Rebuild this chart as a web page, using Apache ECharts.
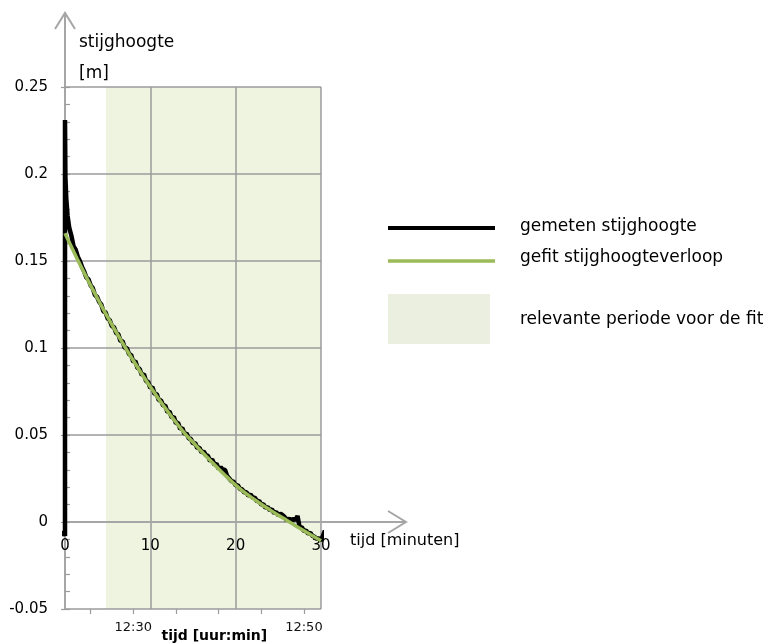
<!DOCTYPE html>
<html>
<head>
<meta charset="utf-8">
<script src="https://cdn.jsdelivr.net/npm/echarts@6/dist/echarts.min.js"></script>
<style>
  html, body { margin: 0; padding: 0; background: #ffffff; }
  #chart { width: 770px; height: 644px; }
</style>
</head>
<body>
<div id="chart"></div>
<script>
// Measured head (m) against time since start of the test (minutes)
const measuredT = [
  -1.35, -1.2, -1.05, -0.9, -0.7, -0.5, -0.3, -0.1, 0, 0,
  0.05, 0.15, 0.3, 0.5, 0.75, 1.0, 1.25, 1.5, 1.75, 2.0, 2.25, 2.5, 2.75, 3.0,
  3.25, 3.5, 3.75, 4.0, 4.25, 4.5, 4.75, 5.0, 5.25, 5.5, 5.75, 6.0, 6.25, 6.5,
  6.75, 7.0, 7.25, 7.5, 7.75, 8.0, 8.25, 8.5, 8.75, 9.0, 9.25, 9.5, 9.75, 10.0,
  10.25, 10.5, 10.75, 11.0, 11.25, 11.5, 11.75, 12.0, 12.25, 12.5, 12.75, 13.0,
  13.25, 13.5, 13.75, 14.0, 14.25, 14.5, 14.75, 15.0, 15.25, 15.5, 15.75, 16.0,
  16.25, 16.5, 16.75, 17.0, 17.25, 17.5, 17.75, 18.0, 18.25, 18.5, 18.75, 19.0,
  19.25, 19.5, 19.75, 20.0, 20.25, 20.5, 20.75, 21.0, 21.25, 21.5, 21.75, 22.0,
  22.25, 22.5, 22.75, 23.0, 23.25, 23.5, 23.75, 24.0, 24.25, 24.5, 24.75, 25.0,
  25.25, 25.5, 25.75, 26.0, 26.25, 26.5, 26.75, 27.0, 27.25, 27.5, 27.75, 28.0,
  28.25, 28.5, 28.75, 29.0, 29.25, 29.5, 29.75, 30.0,
  30.2, 30.45, 30.7, 30.95, 31.2, 31.45, 31.7
];
const measuredH = [
  -0.012, -0.006, -0.010, -0.005, -0.009, -0.007, -0.008, -0.006, -0.008, 0.231,
  0.198, 0.186, 0.176, 0.169, 0.1645, 0.1585, 0.1565, 0.1525, 0.1500, 0.1465, 0.1440, 0.1405, 0.1395, 0.1360,
  0.1345, 0.1305, 0.1295, 0.1265, 0.1250, 0.1210, 0.1205, 0.1170, 0.1160, 0.1125, 0.1120, 0.1085, 0.1080, 0.1040,
  0.1040, 0.1000, 0.1000, 0.0965, 0.0960, 0.0920, 0.0925, 0.0885, 0.0880, 0.0845, 0.0850, 0.0810, 0.0805, 0.0770,
  0.0775, 0.0735, 0.0735, 0.0700, 0.0700, 0.0668, 0.0670, 0.0632, 0.0635, 0.0600, 0.0605, 0.0568,
  0.0570, 0.0535, 0.0540, 0.0505, 0.0510, 0.0480, 0.0478, 0.0450, 0.0455, 0.0425, 0.0428, 0.0400,
  0.0405, 0.0385, 0.0380, 0.0350, 0.0360, 0.0330, 0.0335, 0.0305, 0.0315, 0.0300, 0.0300, 0.0265,
  0.0250, 0.0235, 0.0232, 0.0210, 0.0212, 0.0190, 0.0188, 0.0170, 0.0172, 0.0150, 0.0158, 0.0140,
  0.0140, 0.0118, 0.0122, 0.0100, 0.0102, 0.0082, 0.0086, 0.0068, 0.0072, 0.0052, 0.0058, 0.0038,
  0.0048, 0.0040, 0.0028, 0.0008, 0.0022, 0.0004, 0.0020, 0.0010, 0.0035, -0.0032, -0.0030, -0.0052,
  -0.0048, -0.0068, -0.0062, -0.0080, -0.0085, -0.0098, -0.0092, -0.0108,
  -0.011, -0.005, -0.010, -0.004, -0.009, -0.003, -0.006
];

// Fitted head curve, one value per minute
const fitT = [0, 1, 2, 3, 4, 5, 6, 7, 8, 9, 10, 11, 12, 13, 14, 15,
  16, 17, 18, 19, 20, 21, 22, 23, 24, 25, 26, 27, 28, 29, 30];
const fitH = [0.1660, 0.1556, 0.1456, 0.1360, 0.1267, 0.1177, 0.1091, 0.1008,
  0.0928, 0.0851, 0.0777, 0.0706, 0.0638, 0.0573, 0.0511, 0.0458, 0.0405,
  0.0355, 0.0305, 0.0258, 0.0212, 0.0172, 0.0136, 0.0102, 0.0070, 0.0039,
  0.0009, -0.0021, -0.0050, -0.0079, -0.0108];

// Period used for the fit (minutes)
const fitPeriod = [4.8, 30];

// Axis ticks
const minuteTicks = [0, 10, 20, 30];
const headTicks = [-0.05, 0, 0.05, 0.1, 0.15, 0.2, 0.25];
const clockStart = 742;               // 12:22 expressed in minutes after midnight
const clockTicks = [745, 750, 755, 760, 765, 770];
const clockLabels = [750, 770];

const FONT = 'DejaVu Sans';
const GRID_COLOR = '#9b9b9b';
const AXIS_COLOR = '#a6a6a6';

const chart = echarts.init(document.getElementById('chart'), null, { renderer: 'canvas' });

const pairs = (xs, ys) => xs.map((x, i) => [x, ys[i]]);
const clock = v => {
  const h = Math.floor(v / 60), m = Math.round(v - h * 60);
  return h + ':' + (m < 10 ? '0' + m : m);
};

chart.setOption({
  animation: false,
  backgroundColor: '#ffffff',
  textStyle: { fontFamily: FONT },
  grid: { left: 65, right: 449, top: 87, bottom: 35, containLabel: false },
  xAxis: [
    {
      type: 'value',
      z: 2,
      position: 'bottom',
      min: minuteTicks[0],
      max: minuteTicks[minuteTicks.length - 1],
      interval: 10,
      axisLine: { show: true, onZero: false, lineStyle: { color: AXIS_COLOR, width: 2 } },
      axisTick: { show: false },
      axisLabel: { color: '#000', fontSize: 15, fontFamily: FONT, margin: 17 },
      splitLine: { show: true, lineStyle: { color: GRID_COLOR, width: 1.5 } }
    },
    {
      type: 'value',
      z: 2,
      position: 'bottom',
      min: clockStart,
      max: clockStart + 30,
      axisLine: { show: false, onZero: false },
      axisTick: {
        show: true, length: 5, customValues: clockTicks,
        lineStyle: { color: GRID_COLOR, width: 1.2 }
      },
      axisLabel: {
        show: true, customValues: clockLabels, formatter: v => clock(v),
        color: '#111', fontSize: 13, fontFamily: FONT, margin: 12
      },
      splitLine: { show: false }
    }
  ],
  yAxis: [
    {
      type: 'value',
      z: 2,
      min: headTicks[0],
      max: headTicks[headTicks.length - 1],
      interval: 0.05,
      axisLine: { show: true, onZero: false, lineStyle: { color: AXIS_COLOR, width: 2 } },
      axisTick: { show: true, length: 4, lineStyle: { color: GRID_COLOR, width: 1.2 } },
      axisLabel: {
        color: '#000', fontSize: 15, fontFamily: FONT, margin: 17,
        formatter: v => String(Math.round(v * 100) / 100)
      },
      splitLine: { show: true, lineStyle: { color: GRID_COLOR, width: 1.5 } }
    },
    {
      type: 'value',
      z: 2,
      position: 'left',
      min: headTicks[0],
      max: headTicks[headTicks.length - 1],
      interval: 0.01,
      axisLine: { show: false, onZero: false },
      axisTick: { show: true, inside: true, length: 5, lineStyle: { color: GRID_COLOR, width: 1.2 } },
      axisLabel: { show: false },
      splitLine: { show: false }
    }
  ],
  series: [
    {
      name: 'relevante periode voor de fit',
      type: 'line',
      data: [],
      z: 1,
      silent: true,
      markArea: {
        z: 1,
        silent: true,
        itemStyle: { color: '#eef4e0' },
        data: [[{ xAxis: fitPeriod[0] }, { xAxis: fitPeriod[1] }]]
      }
    },
    {
      name: 'gemeten stijghoogte',
      type: 'line',
      data: pairs(measuredT, measuredH),
      showSymbol: false,
      clip: false,
      lineStyle: { color: '#000000', width: 4.5 },
      z: 3
    },
    {
      name: 'gefit stijghoogteverloop',
      type: 'line',
      data: pairs(fitT, fitH),
      smooth: true,
      showSymbol: false,
      lineStyle: { color: '#9bbb59', width: 3.5 },
      z: 4
    }
  ]
});

// Lift the minutes axis onto the zero line of the head axis
const px = (x, y) => chart.convertToPixel({ xAxisIndex: 0, yAxisIndex: 0 }, [x, y]);
const origin = px(0, 0);
const bottomY = px(0, headTicks[0])[1];
chart.setOption({ xAxis: [{ offset: origin[1] - bottomY }, {}] });

// Axis arrows, axis names and the legend
const plotTop = px(0, 0.25);
const xEnd = px(30, 0);
const yTip = plotTop[1] - 74;
const xTip = xEnd[0] + 85;
const clockMid = chart.convertToPixel({ xAxisIndex: 1 }, clockStart + 17.5);

const line = (pts, color, width, z) => ({
  type: 'polyline', shape: { points: pts }, silent: true, z: z,
  style: { stroke: color, lineWidth: width, fill: null }
});
const text = (x, y, str, opts) => ({
  type: 'text', x: x, y: y, silent: true, z: 10,
  style: Object.assign({
    text: str, fill: '#000', font: '17px "' + FONT + '"',
    align: 'left', verticalAlign: 'middle'
  }, opts || {})
});

chart.setOption({
  graphic: [
    line([[origin[0], plotTop[1]], [origin[0], yTip]], AXIS_COLOR, 2, 1),
    line([[origin[0] - 10, yTip + 16], [origin[0], yTip], [origin[0] + 10, yTip + 16]], AXIS_COLOR, 2, 1),
    line([[xEnd[0], origin[1]], [xTip, origin[1]]], AXIS_COLOR, 2, 1),
    line([[xTip - 18, origin[1] - 11], [xTip, origin[1]], [xTip - 18, origin[1] + 11]], AXIS_COLOR, 2, 1),
    text(origin[0] + 14, plotTop[1] - 44, 'stijghoogte'),
    text(origin[0] + 14, plotTop[1] - 13, '[m]'),
    text(xEnd[0] + 29, origin[1] + 19, 'tijd [minuten]', { font: '16px "' + FONT + '"' }),
    text(clockMid, bottomY + 27, 'tijd [uur:min]', { font: 'bold 14px "' + FONT + '"', align: 'center' }),
    // legend
    line([[388, 228], [495, 228]], '#000000', 4, 10),
    line([[388, 261], [495, 261]], '#9bbb59', 3.5, 10),
    { type: 'rect', shape: { x: 388, y: 294, width: 102, height: 50 }, silent: true, z: 10,
      style: { fill: '#ebefdf' } },
    text(520, 227, 'gemeten stijghoogte'),
    text(520, 258, 'gefit stijghoogteverloop'),
    text(520, 320, 'relevante periode voor de fit')
  ]
});
</script>
</body>
</html>
